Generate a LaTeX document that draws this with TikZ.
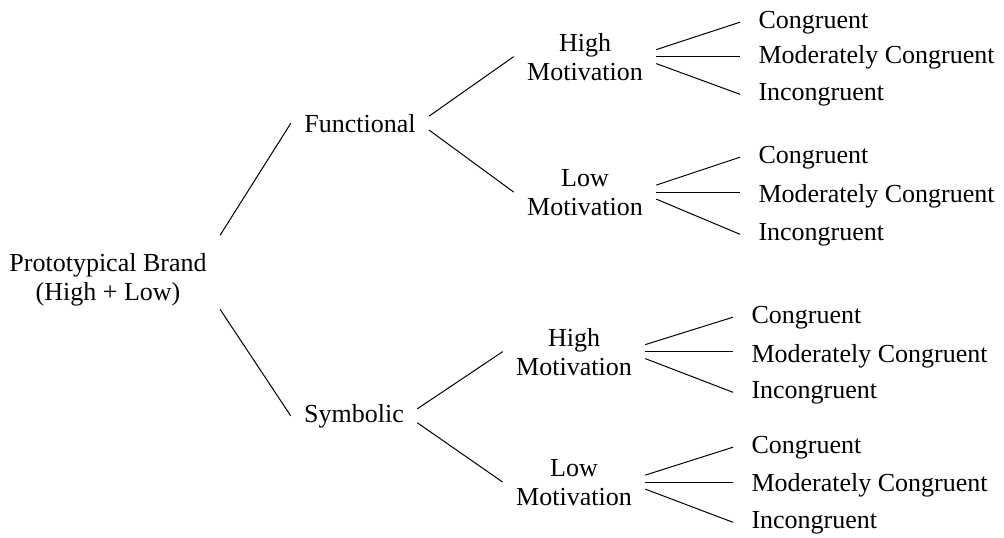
\documentclass[tikz,border=0pt]{standalone}
\usepackage{fontspec}
\setmainfont{Liberation Serif}
\usepackage{tikz}

\begin{document}
\begin{tikzpicture}[x=1pt, y=-1pt, line width=1pt,
    lbl/.style={anchor=base, align=center, inner xsep=13pt, inner ysep=0pt,
      font=\fontsize{26pt}{29pt}\selectfont},
    leaf/.style={lbl, anchor=base west, inner xsep=18pt}]
\useasboundingbox (0,0) rectangle (1004,538);
% labels (two-line nodes sit on their last line)
\node[lbl] (root) at (108,300) {Prototypical Brand\\(High + Low)};
\node[lbl] (fun) at (360,132) {Functional};
\node[lbl] (sym) at (354,422) {Symbolic};
\node[lbl] (fh) at (585,80) {High\\Motivation};
\node[lbl] (fl) at (585,215) {Low\\Motivation};
\node[lbl] (sh) at (574,375) {High\\Motivation};
\node[lbl] (sl) at (574,505) {Low\\Motivation};
% edges
\draw ([yshift=44pt]root.east) -- (fun.west);
\draw ([yshift=-30pt]root.east) -- (sym.west);
\foreach \p/\a/\b in {fun/fh/fl, sym/sh/sl} {
  \draw ([yshift=7pt]\p.east) -- (\a.west);
  \draw ([yshift=-7pt]\p.east) -- (\b.west);
}
% leaves
\foreach \g/\x/\i/\j/\k in {fh/740/28/63/100, fl/740/163/202/240,
    sh/733/323/362/398, sl/733/453/491/528} {
  \node[leaf] (\g1) at (\x,\i) {Congruent};
  \node[leaf] (\g2) at (\x,\j) {Moderately Congruent};
  \node[leaf] (\g3) at (\x,\k) {Incongruent};
  \draw ([yshift=7pt]\g.east) -- (\g1.west);
  \draw (\g.east) -- (\g.east -| \g2.west);
  \draw ([yshift=-7pt]\g.east) -- (\g3.west);
}
\end{tikzpicture}
\end{document}
